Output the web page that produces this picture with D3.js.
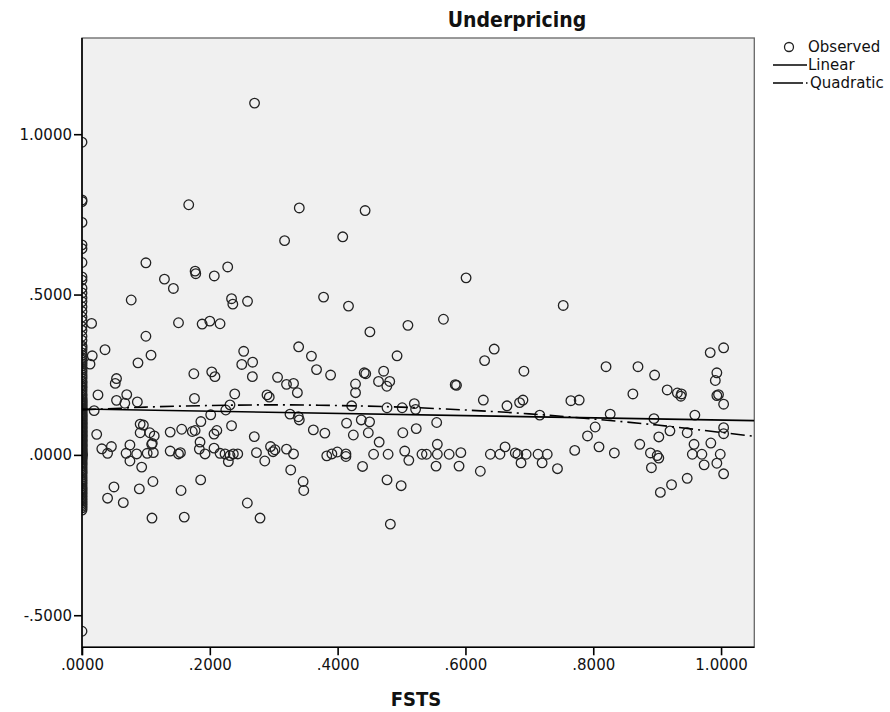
<!DOCTYPE html>
<html><head><meta charset="utf-8">
<script src="https://cdn.jsdelivr.net/npm/d3@7"></script>
<style>body{margin:0;background:#fff}</style>
</head><body>
<svg id="chart" width="890" height="712"></svg>
<script>
const chartTitle = "Underpricing";
const xTitle = "FSTS";
const xTickValues = [0, 0.2, 0.4, 0.6, 0.8, 1.0];
const xTickLabels = [".0000", ".2000", ".4000", ".6000", ".8000", "1.0000"];
const yTickValues = [-0.5, 0, 0.5, 1.0];
const yTickLabels = ["-.5000", ".0000", ".5000", "1.0000"];
const legendLabels = ["Observed", "Linear", "Quadratic"];

// observations at FSTS = 0 (dense column)
const zeroColumnY = [0.975,0.795,0.79,0.725,0.655,0.643,0.6,0.555,0.545,0.52,0.505,0.49,0.478,0.462,0.447,0.43,0.418,0.40,0.388,0.37,0.357,0.34,0.328,0.31,0.302,0.29,0.278,0.27,0.258,0.25,0.238,0.23,0.22,0.21,0.198,0.19,0.18,0.175,0.168,0.165,0.158,0.155,0.148,0.145,0.14,0.135,0.128,0.125,0.12,0.113,0.11,0.103,0.10,0.095,0.088,0.085,0.078,0.075,0.07,0.063,0.06,0.055,0.048,0.045,0.04,0.033,0.03,0.025,0.018,0.015,0.01,0.005,0.002,0.0,0.0,-0.002,-0.005,-0.01,-0.017,-0.022,-0.03,-0.04,-0.05,-0.058,-0.07,-0.08,-0.09,-0.102,-0.11,-0.12,-0.13,-0.14,-0.15,-0.16,-0.165,-0.172,-0.55,
0.335,0.318,0.296,0.284,0.264,0.244,0.226,0.214,0.204,0.186,0.172,0.162,0.152,0.142,0.132,0.122,0.116,0.107,0.098,0.091,0.082,0.072,0.066,0.058,0.051,0.043,0.036,0.028,0.021,0.012,0.007,0.003,-0.001,-0.008,-0.013,-0.026,-0.035,-0.045,-0.054,-0.064,-0.075,-0.085,-0.096,-0.106,-0.116,-0.125,-0.135,-0.145,-0.155];

// observations with FSTS > 0
const fsts = [0.167,0.34,0.443,0.317,0.408,0.100,0.177,0.178,0.207,0.228,0.129,0.143,0.077,0.234,0.236,0.259,0.378,0.417,0.015,0.151,0.188,0.200,0.216,0.100,0.036,0.016,0.0125,0.108,0.0876,0.253,0.250,0.267,0.2666,0.175,0.203,0.208,0.339,0.359,0.367,0.389,0.306,0.32,0.331,0.337,0.428,0.428,0.025,0.054,0.052,0.07,0.0866,0.176,0.239,0.2895,0.293,0.054,0.067,
0.019,0.225,0.2316,0.422,0.3255,0.3385,0.34,0.2014,0.186,0.234,0.091,0.096,0.091,0.106,0.113,0.11,0.023,0.138,0.156,0.1726,0.177,0.2066,0.211,0.2696,0.362,0.38,0.414,0.4246,0.437,0.031,0.04,0.046,0.069,0.075,0.0856,0.075,0.0934,0.102,0.1116,0.109,0.138,0.151,0.154,0.1847,0.1836,0.1925,0.2066,0.216,0.2238,0.2316,0.2368,0.2437,0.229,0.1857,0.273,0.286,0.295,0.302,0.299,0.32,0.331,0.3266,0.346,0.347,0.383,0.391,0.3995,0.413,0.413,0.439,0.05,0.04,0.0646,0.0897,0.111,0.155,0.2587,0.1095,0.16,0.2786,
0.27,
0.601,0.753,0.4505,0.51,0.5656,0.493,0.645,0.63,0.6915,0.4416,0.444,0.472,0.464,0.4815,0.477,0.584,0.586,0.82,0.87,0.896,0.862,0.9157,0.9316,0.938,0.937,0.983,1.004,0.9934,0.991,0.9934,0.996,
1.004,0.4773,0.501,0.52,0.522,0.628,0.665,0.6847,0.69,0.765,0.778,0.7163,0.8265,0.895,0.959,0.45,0.448,0.502,0.523,0.555,0.465,0.803,0.791,0.9026,0.92,0.947,1.004,1.004,0.984,0.9577,0.8728,0.4563,0.479,0.505,0.5114,0.532,0.539,0.556,0.556,0.5745,0.5928,0.554,0.59,0.4773,0.4994,0.4825,0.6233,0.639,0.654,0.662,0.678,0.682,0.695,0.7136,0.728,0.687,0.72,0.744,0.771,0.809,0.833,0.8895,0.9,0.9026,0.891,0.905,0.9225,0.947,0.955,0.97,0.9735,0.9934,0.9987,1.004];
const underpricing = [0.78,0.77,0.762,0.668,0.68,0.599,0.573,0.565,0.558,0.586,0.548,0.519,0.483,0.487,0.47,0.479,0.492,0.464,0.41,0.412,0.408,0.417,0.409,0.37,0.328,0.309,0.283,0.311,0.287,0.323,0.282,0.289,0.244,0.253,0.259,0.244,0.337,0.308,0.266,0.249,0.242,0.22,0.223,0.194,0.221,0.194,0.187,0.238,0.223,0.188,0.165,0.176,0.19,0.187,0.18,0.17,0.161,
0.138,0.14,0.156,0.153,0.127,0.119,0.109,0.125,0.104,0.091,0.096,0.093,0.069,0.069,0.059,0.036,0.064,0.071,0.08,0.073,0.076,0.065,0.076,0.057,0.078,0.068,0.099,0.062,0.109,0.019,0.005,0.026,0.005,0.031,0.003,-0.019,-0.038,0.005,0.007,0.033,0.012,0.003,0.007,0.04,0.018,0.003,0.021,0.005,0.003,-0.002,0.003,0.003,-0.021,-0.078,0.007,-0.019,0.026,0.016,0.01,0.018,0.003,-0.047,-0.083,-0.111,-0.003,0.003,0.009,0.003,-0.005,-0.036,-0.1,-0.135,-0.149,-0.106,-0.083,-0.111,-0.15,-0.197,-0.194,-0.197,
1.097,
0.552,0.466,0.3835,0.404,0.423,0.309,0.33,0.294,0.261,0.256,0.253,0.261,0.229,0.229,0.214,0.219,0.217,0.275,0.275,0.249,0.19,0.2025,0.193,0.19,0.183,0.319,0.334,0.256,0.232,0.185,0.188,
0.158,0.147,0.147,0.16,0.142,0.171,0.153,0.163,0.171,0.169,0.171,0.124,0.127,0.113,0.124,0.103,0.069,0.069,0.082,0.101,0.04,0.087,0.059,0.056,0.075,0.069,0.085,0.066,0.037,0.033,0.033,0.002,0.002,0.012,-0.017,0.002,0.002,0.033,0.002,0.002,0.007,-0.035,-0.035,-0.078,-0.096,-0.216,-0.051,0.002,0.002,0.025,0.006,0.002,0.002,0.002,0.002,-0.025,-0.025,-0.043,0.014,0.025,0.006,0.006,-0.002,-0.01,-0.04,-0.117,-0.093,-0.073,0.002,0.002,-0.031,-0.026,0.002,-0.059];

// fitted lines
const linearFitX = [0, 1.052];
const linearFitY = [0.143, 0.107];
const quadFitX = [0, 0.1, 0.2, 0.3, 0.4, 0.5, 0.6, 0.7, 0.8, 0.9, 1.0, 1.052];
const quadFitY = [0.140, 0.149, 0.154, 0.156, 0.154, 0.149, 0.140, 0.128, 0.112, 0.093, 0.070, 0.058];

const svg = d3.select("#chart");
const L = 82, R = 754.3, T = 38, B = 647.3;
const x = d3.scaleLinear().domain([0, 1.052]).range([L, R]);
const y = d3.scaleLinear().domain([-0.6, 1.3]).range([B, T]);

svg.append("defs").append("clipPath").attr("id","plotclip")
  .append("rect").attr("x",L).attr("y",T).attr("width",R-L).attr("height",B-T);

svg.append("rect").attr("x",L).attr("y",T).attr("width",R-L).attr("height",B-T)
  .attr("fill","#f0f0f0").attr("stroke","#666").attr("stroke-width",1.3);

const pts = zeroColumnY.map(v => [0, v]).concat(fsts.map((f,i) => [f, underpricing[i]]));
const g = svg.append("g").attr("clip-path","url(#plotclip)");
g.selectAll("circle.obs").data(pts).enter().append("circle")
  .attr("class","obs")
  .attr("cx", d => x(d[0])).attr("cy", d => y(d[1])).attr("r", 4.8)
  .attr("fill","none").attr("stroke","#222").attr("stroke-width",1.3);

const lineGen = d3.line().x(d => x(d[0])).y(d => y(d[1]));
g.append("path").datum(linearFitX.map((v,i)=>[v, linearFitY[i]]))
  .attr("d", lineGen).attr("fill","none").attr("stroke","#000").attr("stroke-width",1.6);
g.append("path").datum(quadFitX.map((v,i)=>[v, quadFitY[i]]))
  .attr("d", lineGen.curve(d3.curveCatmullRom)).attr("fill","none").attr("stroke","#000")
  .attr("stroke-width",1.6).attr("stroke-dasharray","14,5,2,5");

const fontTick = "'DejaVu Sans', sans-serif";
const xAxis = d3.axisBottom(x).tickValues(xTickValues).tickSize(8).tickPadding(4)
  .tickFormat((d,i) => xTickLabels[i]);
const yAxis = d3.axisLeft(y).tickValues(yTickValues).tickSize(8).tickPadding(2)
  .tickFormat((d,i) => yTickLabels[i]);
const gx = svg.append("g").attr("transform",`translate(0,${B})`).call(xAxis);
const gy = svg.append("g").attr("transform",`translate(${L},0)`).call(yAxis);
[gx, gy].forEach(a => {
  a.select(".domain").remove();
  a.selectAll(".tick line").attr("stroke","#000").attr("stroke-width",1.6);
  a.selectAll(".tick text").attr("fill","#111").style("font-family",fontTick).style("font-size","15px");
});
svg.append("line").attr("x1",L).attr("x2",R).attr("y1",B).attr("y2",B).attr("stroke","#000").attr("stroke-width",1.6);
svg.append("line").attr("x1",L).attr("x2",L).attr("y1",T).attr("y2",B+8).attr("stroke","#000").attr("stroke-width",1.6);

svg.append("text").attr("x",517).attr("y",27).attr("text-anchor","middle")
  .style("font-family","'DejaVu Sans Condensed', 'DejaVu Sans', sans-serif").style("font-weight","bold").style("font-size","21px")
  .attr("fill","#111").text(chartTitle);
svg.append("text").attr("x",416).attr("y",706).attr("text-anchor","middle")
  .style("font-family","'DejaVu Sans Condensed', 'DejaVu Sans', sans-serif").style("font-weight","bold").style("font-size","20px")
  .attr("fill","#111").text(xTitle);

// legend
const lg = svg.append("g");
const lf = "'DejaVu Sans', sans-serif";
lg.append("circle").attr("cx",789).attr("cy",47).attr("r",4.5).attr("fill","none").attr("stroke","#222").attr("stroke-width",1.3);
lg.append("line").attr("x1",773).attr("x2",807).attr("y1",65).attr("y2",65).attr("stroke","#000").attr("stroke-width",1.6);
lg.append("line").attr("x1",773).attr("x2",808).attr("y1",83).attr("y2",83).attr("stroke","#000").attr("stroke-width",1.6).attr("stroke-dasharray","30,3,1.5,3");
[[808,52],[808,70],[810,88]].forEach((p,i) => {
  lg.append("text").attr("x",p[0]).attr("y",p[1]).style("font-family",lf).style("font-size","15px")
    .attr("fill","#111").text(legendLabels[i]);
});
</script>
</body></html>
